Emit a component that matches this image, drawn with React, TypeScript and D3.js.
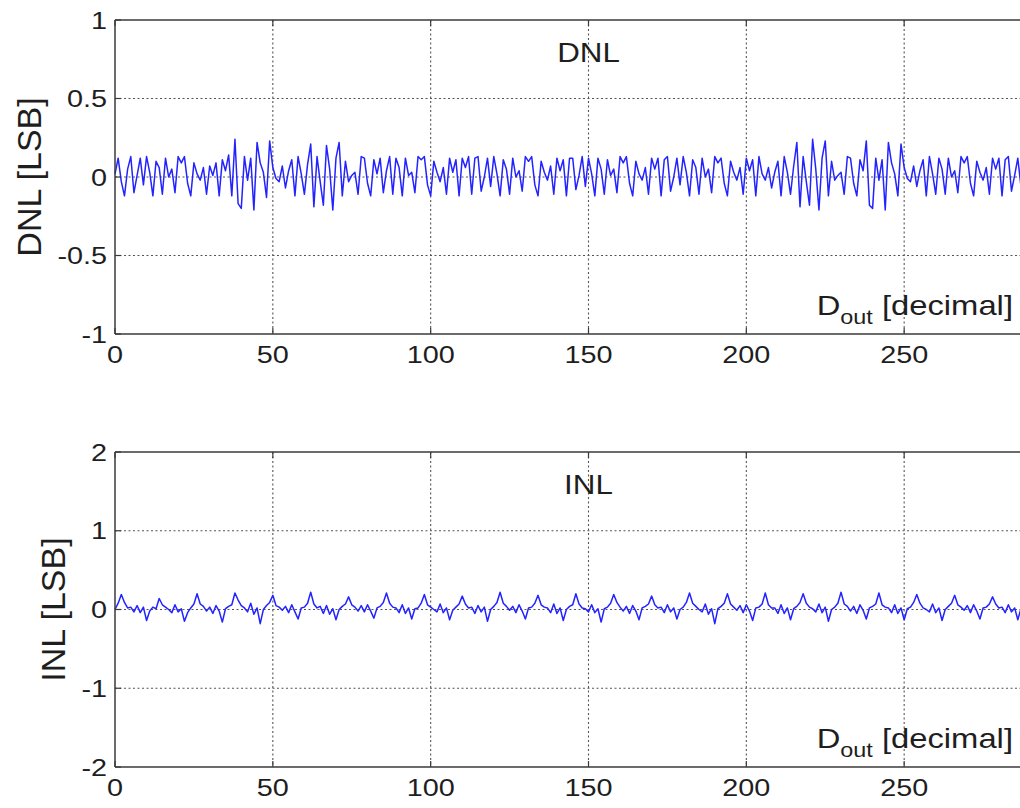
import React from "react";
import * as d3 from "d3";

const dnl: number[] = [
  0.02, 0.12, -0.03, -0.12, 0.05, 0.13, -0.10, 0.01, 0.12, -0.05,
  0.13, 0.03, -0.12, 0.10, 0.06, -0.11, 0.12, 0.00, 0.05, -0.10,
  0.13, 0.09, 0.13, -0.04, -0.12, 0.09, 0.02, -0.02, 0.06, -0.11,
  0.07, 0.01, 0.09, -0.12, 0.11, 0.04, 0.14, -0.12, 0.24, -0.17,
  -0.20, 0.13, -0.02, 0.12, -0.21, 0.22, 0.09, 0.03, -0.13, 0.23,
  0.06, -0.01, -0.03, 0.07, -0.07, 0.04, 0.11, -0.12, 0.13, 0.02,
  -0.11, 0.08, 0.21, -0.19, 0.13, -0.03, -0.18, 0.20, 0.05, -0.21,
  0.12, 0.22, -0.12, 0.10, -0.03, 0.01, 0.03, -0.11, 0.13, 0.12,
  -0.04, -0.12, 0.11, 0.02, 0.12, -0.10, 0.04, 0.13, -0.11, 0.12,
  0.06, -0.12, 0.12, 0.01, 0.03, -0.10, 0.13, 0.11, 0.13, -0.05,
  -0.12, 0.10, 0.03, -0.03, 0.06, -0.11, 0.12, 0.03, 0.11, -0.12,
  0.12, 0.06, 0.13, -0.11, 0.12, 0.13, -0.09, 0.00, 0.12, -0.06,
  0.13, 0.02, -0.12, 0.11, 0.05, -0.11, 0.12, 0.00, 0.04, -0.09,
  0.13, 0.10, 0.13, -0.05, -0.12, 0.10, 0.03, -0.02, 0.07, -0.11,
  0.12, 0.04, 0.11, -0.12, 0.12, 0.12, -0.08, 0.01, 0.13, -0.06,
  0.12, 0.02, -0.12, 0.12, 0.05, -0.11, 0.11, 0.01, 0.05, -0.10,
  0.13, 0.09, 0.13, -0.04, -0.12, 0.10, 0.02, -0.02, 0.06, -0.11,
  0.12, 0.05, 0.12, -0.12, 0.11, 0.13, -0.09, 0.00, 0.12, -0.05,
  0.13, 0.03, -0.12, 0.11, 0.06, -0.11, 0.12, 0.00, 0.05, -0.10,
  0.13, 0.09, 0.12, -0.04, -0.12, 0.10, 0.03, -0.02, 0.06, -0.11,
  0.12, 0.04, 0.11, -0.12, 0.13, 0.02, -0.02, 0.06, -0.07, 0.03,
  0.10, -0.12, 0.13, 0.03, -0.11, 0.07, 0.22, -0.19, 0.13, -0.03,
  -0.18, 0.24, 0.05, -0.21, 0.12, 0.23, -0.12, 0.10, -0.02, 0.01,
  0.03, -0.11, 0.13, 0.12, -0.04, -0.12, 0.11, 0.04, 0.23, -0.18,
  -0.20, 0.12, -0.02, 0.11, -0.21, 0.22, 0.09, 0.02, -0.12, 0.21,
  0.06, -0.01, -0.03, 0.07, -0.06, 0.04, 0.11, -0.12, 0.13, 0.02,
  -0.11, 0.12, 0.05, -0.11, 0.12, 0.00, 0.04, -0.10, 0.13, 0.09,
  0.13, -0.04, -0.12, 0.10, 0.03, -0.02, 0.06, -0.11, 0.12, 0.05,
  0.12, -0.12, 0.11, 0.13, -0.09, 0.01, 0.12, -0.06, 0.13, 0.02,
];

const inl: number[] = [
  0.00, 0.08, 0.19, 0.09, 0.02, 0.03, -0.03, 0.05, -0.04, 0.03, -0.14, -0.02,
  0.03, 0.01, 0.14, 0.06, 0.03, 0.00, -0.04, 0.06, -0.03, 0.01, -0.15, -0.04,
  0.02, 0.07, 0.20, 0.07, 0.04, -0.02, 0.03, -0.05, 0.05, -0.02, -0.16, 0.01,
  0.04, 0.06, 0.21, 0.12, 0.05, 0.02, -0.03, 0.08, -0.06, 0.02, -0.18, 0.00,
  0.05, 0.09, 0.18, 0.05, 0.03, -0.01, 0.04, -0.04, 0.06, -0.03, -0.12, 0.02,
  0.03, 0.08, 0.22, 0.07, 0.02, 0.04, -0.05, 0.05, -0.06, 0.01, -0.13, 0.00,
  0.04, 0.07, 0.16, 0.06, 0.03, -0.02, 0.05, -0.03, 0.06, -0.02, -0.11, 0.02,
  0.04, 0.09, 0.21, 0.08, 0.03, 0.02, -0.04, 0.06, -0.05, 0.02, -0.12, 0.01,
  0.02, 0.08, 0.19, 0.06, 0.03, 0.00, -0.03, 0.07, -0.04, 0.02, -0.13, -0.01,
  0.03, 0.07, 0.17, 0.07, 0.02, 0.03, -0.05, 0.05, -0.03, 0.03, -0.15, 0.00,
  0.04, 0.09, 0.22, 0.08, 0.04, -0.01, 0.04, -0.04, 0.06, -0.02, -0.12, 0.02,
  0.03, 0.08, 0.18, 0.06, 0.03, 0.02, -0.04, 0.07, -0.05, 0.02, -0.14, 0.00,
  0.04, 0.06, 0.20, 0.07, 0.02, 0.01, -0.03, 0.06, -0.04, 0.01, -0.16, 0.01,
  0.03, 0.08, 0.19, 0.09, 0.03, -0.02, 0.04, -0.05, 0.05, -0.02, -0.13, 0.02,
  0.04, 0.07, 0.17, 0.06, 0.02, 0.03, -0.04, 0.06, -0.03, 0.02, -0.12, 0.00,
  0.03, 0.09, 0.21, 0.08, 0.04, 0.00, -0.03, 0.07, -0.06, 0.01, -0.18, 0.01,
  0.04, 0.08, 0.20, 0.07, 0.03, -0.01, 0.05, -0.04, 0.06, -0.02, -0.14, 0.02,
  0.03, 0.07, 0.21, 0.06, 0.02, 0.02, -0.05, 0.06, -0.05, 0.02, -0.13, 0.01,
  0.04, 0.09, 0.20, 0.08, 0.03, 0.01, -0.03, 0.07, -0.04, 0.03, -0.15, 0.00,
  0.03, 0.08, 0.22, 0.07, 0.04, -0.02, 0.04, -0.05, 0.06, -0.01, -0.12, 0.02,
  0.04, 0.07, 0.21, 0.06, 0.03, 0.02, -0.04, 0.06, -0.05, 0.02, -0.13, 0.01,
  0.03, 0.09, 0.19, 0.08, 0.02, 0.00, -0.03, 0.07, -0.04, 0.02, -0.14, 0.00,
  0.04, 0.08, 0.18, 0.06, 0.03, -0.01, 0.05, -0.04, 0.06, -0.02, -0.12, 0.02,
  0.03, 0.07, 0.16, 0.07, 0.02, 0.03, -0.04, 0.06, -0.03, 0.02, -0.13, 0.01,
  0.04, -0.10,
];

const xTicks: number[] = [0, 50, 100, 150, 200, 250];
const dnlTicks: number[] = [-1, -0.5, 0, 0.5, 1];
const inlTicks: number[] = [-2, -1, 0, 1, 2];
const xDomain: [number, number] = [0, 300];

const FONT = "'Liberation Sans', Arial, Helvetica, sans-serif";
const TEXT = "#1e1e1e";
const AXIS = "#3a3a3a";
const LINE = "#2323ff";

interface PanelProps {
  data: number[];
  yDomain: [number, number];
  yTicks: number[];
  top: number;
  bottom: number;
  title: string;
  ylabel: string;
  ylabelX: number;
}

function Panel({ data, yDomain, yTicks, top, bottom, title, ylabel, ylabelX }: PanelProps) {
  const left = 115;
  const right = 1062;
  const x = d3.scaleLinear().domain(xDomain).range([left, right]);
  const y = d3.scaleLinear().domain(yDomain).range([bottom, top]);
  const line = d3
    .line<number>()
    .x((_, i) => x(i))
    .y((d) => y(d));
  const midY = (top + bottom) / 2;
  const sx = 1.2;
  return (
    <g>
      {xTicks
        .filter((t) => t > 0)
        .map((t) => (
          <line
            key={"gx" + t}
            x1={x(t)}
            x2={x(t)}
            y1={top}
            y2={bottom}
            stroke="#555"
            strokeWidth={1.1}
            strokeDasharray="2,2.5"
          />
        ))}
      {yTicks
        .filter((t) => t > yDomain[0] && t < yDomain[1])
        .map((t) => (
          <line
            key={"gy" + t}
            x1={left}
            x2={right}
            y1={y(t)}
            y2={y(t)}
            stroke="#555"
            strokeWidth={1.1}
            strokeDasharray="2,2.5"
          />
        ))}
      <path d={line(data) ?? ""} fill="none" stroke={LINE} strokeWidth={1.5} strokeLinejoin="round" />
      <line x1={left} x2={left} y1={top} y2={bottom} stroke={AXIS} strokeWidth={1.5} />
      <line x1={left} x2={right} y1={bottom} y2={bottom} stroke={AXIS} strokeWidth={1.5} />
      <line x1={left} x2={right} y1={top} y2={top} stroke={AXIS} strokeWidth={1.5} />
      {xTicks.map((t) => (
        <g key={"tx" + t}>
          <line x1={x(t)} x2={x(t)} y1={bottom} y2={bottom - 6} stroke={AXIS} strokeWidth={1.2} />
          <line x1={x(t)} x2={x(t)} y1={top} y2={top + 6} stroke={AXIS} strokeWidth={1.2} />
          <text
            transform={`translate(${x(t)},${bottom + 29}) scale(${sx},1)`}
            textAnchor="middle"
            fontSize={24}
            fontFamily={FONT}
            fill={TEXT}
          >
            {t}
          </text>
        </g>
      ))}
      {yTicks.map((t) => (
        <g key={"ty" + t}>
          <line x1={left} x2={left + 6} y1={y(t)} y2={y(t)} stroke={AXIS} strokeWidth={1.2} />
          <text
            transform={`translate(${left - 8},${y(t) + 8.5}) scale(${sx},1)`}
            textAnchor="end"
            fontSize={24}
            fontFamily={FONT}
            fill={TEXT}
          >
            {t}
          </text>
        </g>
      ))}
      <text
        transform={`translate(${x(150)},${top + 42}) scale(1.12,1)`}
        textAnchor="middle"
        fontSize={28}
        fontFamily={FONT}
        fill={TEXT}
      >
        {title}
      </text>
      <text
        transform={`translate(1013,${bottom - 19}) scale(1.17,1)`}
        textAnchor="end"
        fontSize={28}
        fontFamily={FONT}
        fill={TEXT}
      >
        D
        <tspan fontSize={20} dy={9}>out</tspan>
        <tspan dy={-9}> [decimal]</tspan>
      </text>
      <text
        transform={`translate(${ylabelX},${midY}) rotate(-90)`}
        textAnchor="middle"
        fontSize={34}
        fontFamily={FONT}
        fill={TEXT}
      >
        {ylabel}
      </text>
    </g>
  );
}

export default function App() {
  return (
    <svg
      width={1020}
      height={808}
      viewBox="0 0 1020 808"
      style={{ position: "absolute", left: 0, top: 0, background: "#fff" }}
    >
      <rect x={0} y={0} width={1020} height={808} fill="#fff" />
      <Panel
        data={dnl}
        yDomain={[-1, 1]}
        yTicks={dnlTicks}
        top={20}
        bottom={334}
        title="DNL"
        ylabel="DNL [LSB]"
        ylabelX={41}
      />
      <Panel
        data={inl}
        yDomain={[-2, 2]}
        yTicks={inlTicks}
        top={452}
        bottom={767}
        title="INL"
        ylabel="INL [LSB]"
        ylabelX={65}
      />
    </svg>
  );
}
